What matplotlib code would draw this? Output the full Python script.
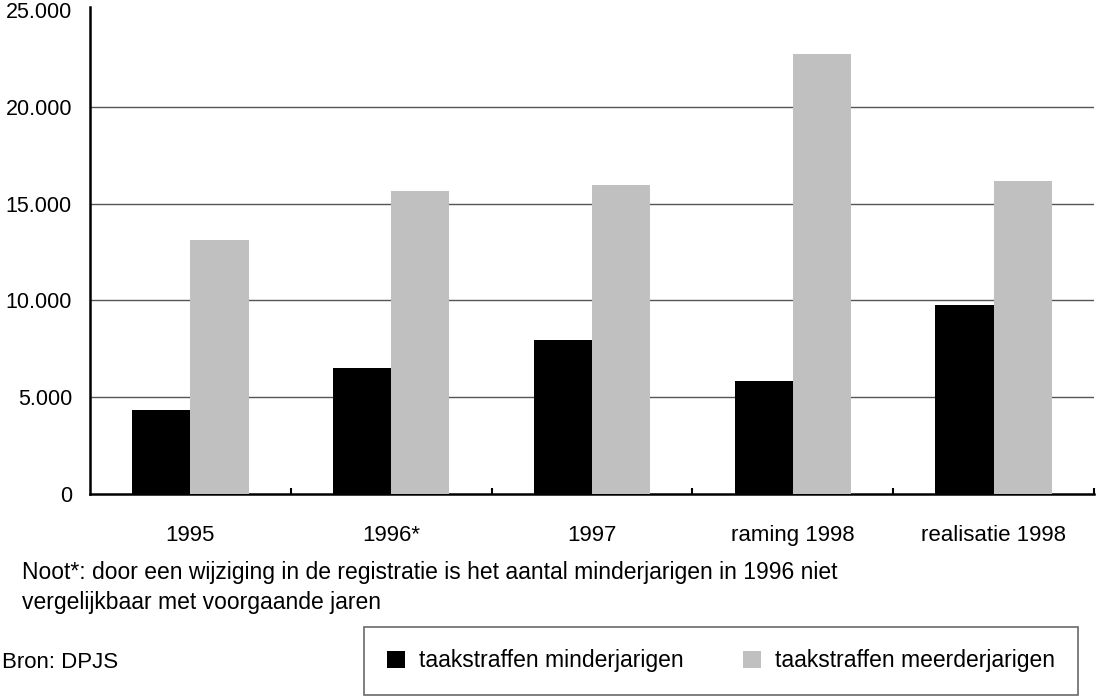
import matplotlib
matplotlib.use('Agg')
import matplotlib.pyplot as plt
import numpy as np
from matplotlib.ticker import FuncFormatter, FixedLocator

categories = ['1995', '1996*', '1997', 'raming 1998', 'realisatie 1998']
minderjarigen = [4340, 6510, 7960, 5840, 9760]
meerderjarigen = [13120, 15650, 15960, 22730, 16170]
labels = ['taakstraffen minderjarigen', 'taakstraffen meerderjarigen']

plt.rcParams['font.family'] = ['Liberation Sans', 'DejaVu Sans']

fig = plt.figure(figsize=(10.96, 6.98), dpi=100)
ax = fig.add_axes([90 / 1096, 1 - 494 / 698, 1004 / 1096, 484 / 698])

x = np.arange(len(categories))
w = 0.29
ax.bar(x - w / 2, minderjarigen, w, color='black', label=labels[0], zorder=3)
ax.bar(x + w / 2, meerderjarigen, w, color='#c0c0c0', label=labels[1], zorder=3)

ax.set_xlim(-0.5, len(categories) - 0.5)
ax.set_ylim(0, 25000)
ax.set_yticks(np.arange(0, 25001, 5000))
ax.yaxis.set_major_formatter(FuncFormatter(lambda v, p: '0' if v == 0 else '{:,.0f}'.format(v).replace(',', '.')))
# gridlines, without one at the top
for v in range(5000, 25000, 5000):
    ax.axhline(v, color='#555555', linewidth=1, zorder=0)
ax.set_xticks(x)
ax.set_xticklabels(categories)
ax.xaxis.set_minor_locator(FixedLocator(x + 0.5))
ax.tick_params(axis='x', which='major', length=0, pad=22, labelsize=16)
ax.tick_params(axis='x', which='minor', length=4, width=1.5, direction='in')
ax.tick_params(axis='y', length=0, pad=13, labelsize=15.5)

for s in ['top', 'right']:
    ax.spines[s].set_visible(False)
ax.spines['left'].set_linewidth(1.8)
ax.spines['bottom'].set_linewidth(1.8)
ax.spines['left'].set_bounds(0, 25150)

fig.text(22 / 1096, 1 - 572 / 698, 'Noot*: door een wijziging in de registratie is het aantal minderjarigen in 1996 niet',
         fontsize=16.5, va='center')
fig.text(22 / 1096, 1 - 603 / 698, 'vergelijkbaar met voorgaande jaren', fontsize=16.5, va='center')
fig.text(2 / 1096, 1 - 662 / 698, 'Bron: DPJS', fontsize=16, va='center')

leg = fig.legend(loc='center', ncol=2, bbox_to_anchor=(364 / 1096, 2 / 698, 714 / 1096, 70 / 698),
                 mode='expand', frameon=True, fancybox=False, edgecolor='#444444',
                 fontsize=16.5, handlelength=0.8, handleheight=0.8, handletextpad=0.6,
                 borderpad=1.0, borderaxespad=0, columnspacing=1.5)
leg.get_frame().set_linewidth(1.2)

fig.savefig('out.png', dpi=100)
